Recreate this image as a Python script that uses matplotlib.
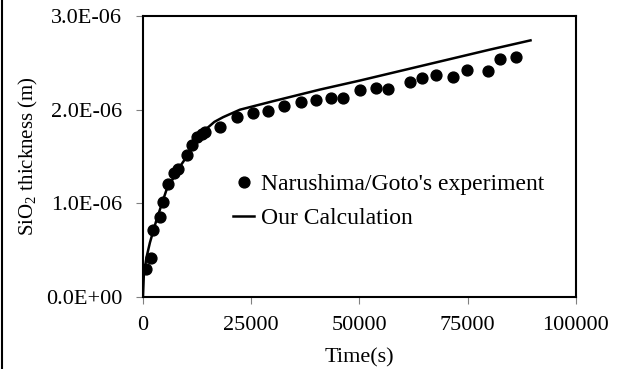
import matplotlib
matplotlib.use('Agg')
import matplotlib.pyplot as plt
from matplotlib.lines import Line2D

plt.rcParams['font.family'] = ['Liberation Serif', 'DejaVu Serif']
plt.rcParams['mathtext.fontset'] = 'custom'
plt.rcParams['mathtext.rm'] = 'Liberation Serif'

# experiment (Narushima/Goto)
exp_t = [690, 1850, 2390, 3900, 4690, 5850, 7160, 8160, 10090, 11240, 12390, 13550, 14300,
         17900, 21600, 25450, 28900, 32560, 36400, 39900, 43500, 46260, 50100, 53800, 56650,
         61660, 64340, 67670, 71660, 74750, 79750, 82450, 86050]
exp_y = [0.296, 0.42, 0.715, 0.857, 1.017, 1.21, 1.32, 1.37, 1.515, 1.62, 1.71, 1.74, 1.765,
         1.81, 1.92, 1.96, 1.985, 2.04, 2.085, 2.10, 2.12, 2.13, 2.215, 2.235, 2.225,
         2.30, 2.335, 2.37, 2.35, 2.42, 2.415, 2.54, 2.56]

# calculation
calc_t = [0, 200, 800, 1600, 3100, 5400, 8500, 11600, 14500, 16500, 18500, 22400, 30000,
          40900, 50000, 60000, 70000, 80000, 89500]
calc_y = [0, 0.24, 0.42, 0.58, 0.82, 1.14, 1.39, 1.60, 1.79, 1.87, 1.92, 2.00, 2.09,
          2.215, 2.31, 2.42, 2.53, 2.64, 2.74]

fig = plt.figure(figsize=(6.2, 3.69), dpi=100)
ax = fig.add_axes([0.2306, 0.1951, 0.6984, 0.7615])

ax.plot(exp_t, [v * 1e-6 for v in exp_y], 'o', color='black', markersize=7.8,
        label="Narushima/Goto's experiment")
ax.plot(calc_t, [v * 1e-6 for v in calc_y], '-', color='black', linewidth=1.8,
        label='Our Calculation')

ax.set_xlim(0, 100000)
ax.set_ylim(0, 3e-6)
ax.set_xticks([0, 25000, 50000, 75000, 100000])
ax.set_yticks([0, 1e-6, 2e-6, 3e-6])
ax.set_yticklabels(['0.0E+00', '1.0E-06', '2.0E-06', '3.0E-06'])
ax.tick_params(direction='out', length=5, width=0.8, color='#808080', labelsize=16)
ax.tick_params(axis='y', pad=10)
ax.tick_params(axis='x', pad=9)
for s in ax.spines.values():
    s.set_linewidth(1.5)

ax.set_xlabel('Time(s)', fontsize=16, labelpad=9)
ax.set_ylabel('SiO$_2$ thickness (m)', fontsize=15, labelpad=4)

ax.legend(loc='upper left', bbox_to_anchor=(0.208, 0.44), frameon=False, fontsize=17,
          handlelength=0.9, handletextpad=0.3, labelspacing=0.55, borderpad=0,
          borderaxespad=0)

fig.add_artist(Line2D([0.004, 0.004], [0, 1], color='black', linewidth=1.5))

fig.savefig('out.png', dpi=100)
